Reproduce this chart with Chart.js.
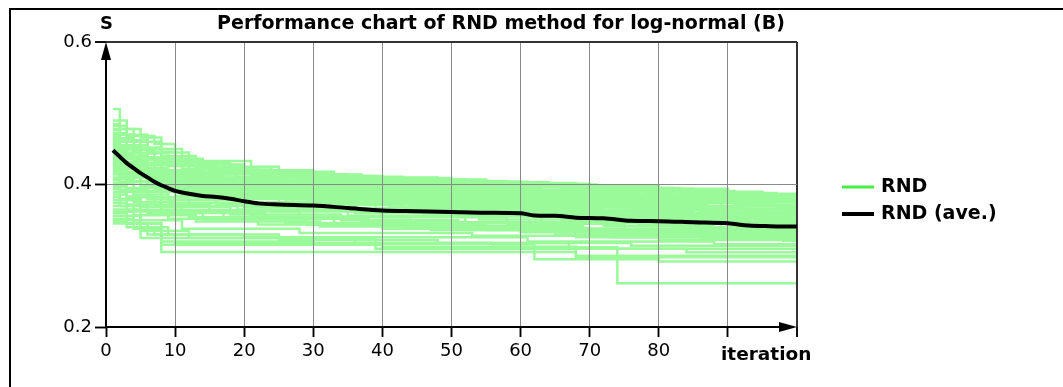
<!DOCTYPE html>
<html>
<head>
<meta charset="utf-8">
<title>Performance chart of RND method for log-normal (B)</title>
<script src="https://cdn.jsdelivr.net/npm/chart.js@4.4.1/dist/chart.umd.min.js"></script>
<style>
  html, body { margin: 0; padding: 0; background: #fff; }
  #wrap { position: relative; width: 1063px; height: 387px; }
</style>
</head>
<body>
<div id="wrap"><canvas id="perfChart"></canvas></div>
<script>
const chartTitle = 'Performance chart of RND method for log-normal (B)';
const yAxisTitle = 'S';
const xAxisTitle = 'iteration';
const legendLabels = ['RND', 'RND (ave.)'];

const xTicks = [0, 10, 20, 30, 40, 50, 60, 70, 80, 90, 100];
const xTickLabels = ['0', '10', '20', '30', '40', '50', '60', '70', '80', '', ''];
const yTicks = [0.2, 0.4, 0.6];
const lastIteration = 100;

// average over the runs
const aveIter = [1, 2, 3, 4, 5, 6, 7, 8, 9, 10, 12, 14, 16, 18, 20, 22, 25, 30, 35, 40,
  45, 50, 55, 60, 62, 65, 68, 72, 76, 80, 85, 90, 93, 96, 100];
const aveValue = [0.448, 0.439, 0.430, 0.423, 0.416, 0.410, 0.404, 0.399, 0.395, 0.391,
  0.387, 0.384, 0.3825, 0.380, 0.3765, 0.3735, 0.372, 0.3705, 0.367, 0.3635,
  0.3625, 0.3615, 0.3605, 0.3597, 0.3565, 0.356, 0.3535, 0.3525, 0.349, 0.3485,
  0.347, 0.3455, 0.3425, 0.3415, 0.341];

// single runs: [iteration, best S so far] at each improvement
const rndRuns = [
  [[1, 0.506], [2, 0.478], [5, 0.466], [8, 0.436], [14, 0.421], [22, 0.414], [34, 0.408], [44, 0.404], [60, 0.400], [66, 0.395], [82, 0.3905], [87, 0.387]],
  [[1, 0.490], [3, 0.468], [7, 0.457], [10, 0.433], [21, 0.414], [35, 0.407], [55, 0.401], [70, 0.394], [90, 0.386]],
  [[1, 0.485], [2, 0.470], [6, 0.450], [11, 0.430], [18, 0.420], [30, 0.410], [48, 0.403], [64, 0.398], [80, 0.390], [95, 0.384]],
  [[1, 0.482], [3, 0.462], [6, 0.446], [10, 0.430], [17, 0.419], [29, 0.411], [43, 0.404], [61, 0.398], [74, 0.391], [91, 0.385]],
  [[1, 0.478], [4, 0.460], [8, 0.440], [13, 0.425], [25, 0.412], [40, 0.405], [58, 0.399], [75, 0.392], [88, 0.385]],
  [[1, 0.476], [2, 0.460], [5, 0.444], [9, 0.430], [15, 0.420], [26, 0.412], [39, 0.406], [54, 0.400], [71, 0.393], [86, 0.386]],
  [[1, 0.472], [3, 0.455], [6, 0.445], [12, 0.428], [20, 0.418], [33, 0.409], [50, 0.402], [68, 0.394], [85, 0.387], [96, 0.382]],
  [[1, 0.470], [4, 0.452], [8, 0.436], [13, 0.424], [24, 0.414], [37, 0.407], [52, 0.401], [67, 0.395], [83, 0.388], [97, 0.383]],
  [[1, 0.468], [2, 0.452], [5, 0.438], [9, 0.426], [16, 0.416], [28, 0.408], [45, 0.399], [62, 0.392], [78, 0.386], [92, 0.379]],
  [[1, 0.466], [2, 0.449], [6, 0.435], [11, 0.422], [21, 0.412], [34, 0.404], [51, 0.397], [66, 0.390], [80, 0.384]],
  [[1, 0.465], [4, 0.448], [7, 0.432], [15, 0.420], [27, 0.410], [42, 0.401], [60, 0.393], [76, 0.385], [90, 0.377]],
  [[1, 0.463], [3, 0.444], [7, 0.428], [12, 0.416], [26, 0.406], [41, 0.399], [57, 0.392], [73, 0.386], [89, 0.380]],
  [[1, 0.462], [2, 0.445], [5, 0.430], [10, 0.418], [19, 0.410], [31, 0.402], [47, 0.395], [63, 0.389], [82, 0.381]],
  [[1, 0.460], [3, 0.440], [6, 0.428], [11, 0.414], [23, 0.405], [38, 0.398], [56, 0.390], [72, 0.383], [94, 0.375]],
  [[1, 0.458], [2, 0.442], [4, 0.430], [8, 0.418], [14, 0.408], [26, 0.400], [41, 0.393], [59, 0.387], [77, 0.380], [91, 0.372]],
  [[1, 0.457], [2, 0.440], [5, 0.427], [10, 0.414], [19, 0.404], [33, 0.397], [49, 0.390], [66, 0.383], [84, 0.377]],
  [[1, 0.455], [3, 0.438], [7, 0.420], [12, 0.410], [22, 0.401], [36, 0.394], [53, 0.386], [69, 0.379], [86, 0.370]],
  [[1, 0.454], [4, 0.434], [8, 0.419], [14, 0.410], [27, 0.400], [43, 0.392], [60, 0.385], [77, 0.378], [93, 0.371]],
  [[1, 0.452], [2, 0.436], [5, 0.423], [9, 0.412], [17, 0.403], [30, 0.395], [46, 0.388], [64, 0.381], [81, 0.374], [97, 0.367]],
  [[1, 0.450], [4, 0.430], [8, 0.415], [13, 0.405], [24, 0.397], [39, 0.390], [57, 0.382], [74, 0.375], [89, 0.366]],
  [[1, 0.449], [3, 0.430], [6, 0.417], [12, 0.403], [22, 0.394], [36, 0.387], [54, 0.380], [70, 0.373], [87, 0.365]],
  [[1, 0.448], [2, 0.432], [6, 0.418], [10, 0.406], [20, 0.398], [32, 0.391], [49, 0.384], [66, 0.377], [84, 0.369], [98, 0.364]],
  [[1, 0.446], [3, 0.428], [7, 0.410], [15, 0.400], [28, 0.392], [44, 0.385], [61, 0.378], [79, 0.370], [93, 0.362]],
  [[1, 0.445], [2, 0.428], [7, 0.410], [13, 0.398], [26, 0.390], [42, 0.382], [59, 0.374], [76, 0.366], [91, 0.358]],
  [[1, 0.444], [2, 0.430], [4, 0.418], [9, 0.404], [18, 0.395], [29, 0.389], [43, 0.382], [60, 0.374], [76, 0.366], [92, 0.359]],
  [[1, 0.442], [3, 0.425], [6, 0.411], [12, 0.399], [25, 0.391], [40, 0.383], [58, 0.375], [73, 0.368], [88, 0.357]],
  [[1, 0.440], [2, 0.426], [5, 0.412], [11, 0.400], [21, 0.392], [35, 0.384], [52, 0.376], [70, 0.370], [86, 0.362], [96, 0.355]],
  [[1, 0.438], [4, 0.420], [8, 0.405], [16, 0.394], [30, 0.387], [47, 0.379], [65, 0.371], [83, 0.360]],
  [[1, 0.437], [4, 0.418], [9, 0.402], [18, 0.392], [32, 0.384], [47, 0.376], [63, 0.368], [79, 0.359], [95, 0.351]],
  [[1, 0.436], [2, 0.422], [6, 0.406], [13, 0.396], [23, 0.388], [38, 0.380], [55, 0.372], [71, 0.364], [90, 0.352]],
  [[1, 0.434], [3, 0.418], [7, 0.403], [14, 0.392], [27, 0.384], [42, 0.377], [59, 0.369], [78, 0.360], [94, 0.350]],
  [[1, 0.432], [2, 0.417], [5, 0.404], [10, 0.394], [19, 0.386], [33, 0.378], [50, 0.370], [67, 0.362], [85, 0.354], [99, 0.348]],
  [[1, 0.430], [4, 0.414], [9, 0.398], [17, 0.389], [31, 0.381], [45, 0.373], [62, 0.365], [80, 0.356], [95, 0.346]],
  [[1, 0.429], [3, 0.411], [8, 0.397], [16, 0.386], [30, 0.378], [46, 0.370], [64, 0.361], [81, 0.352], [94, 0.343]],
  [[1, 0.428], [2, 0.414], [6, 0.400], [12, 0.390], [24, 0.382], [37, 0.375], [54, 0.367], [72, 0.358], [87, 0.348]],
  [[1, 0.426], [3, 0.410], [8, 0.396], [15, 0.387], [29, 0.379], [44, 0.371], [61, 0.362], [75, 0.353], [91, 0.344]],
  [[1, 0.424], [2, 0.410], [5, 0.398], [11, 0.388], [22, 0.380], [36, 0.372], [51, 0.364], [68, 0.355], [83, 0.346], [97, 0.341]],
  [[1, 0.422], [4, 0.404], [9, 0.392], [18, 0.383], [32, 0.375], [48, 0.367], [64, 0.358], [80, 0.349], [93, 0.338]],
  [[1, 0.420], [3, 0.405], [7, 0.392], [14, 0.383], [26, 0.376], [41, 0.368], [57, 0.360], [74, 0.350], [89, 0.340]],
  [[1, 0.418], [2, 0.403], [6, 0.391], [13, 0.381], [27, 0.372], [43, 0.364], [60, 0.355], [77, 0.345], [93, 0.334]],
  [[1, 0.417], [2, 0.404], [6, 0.390], [13, 0.380], [25, 0.372], [39, 0.364], [56, 0.355], [71, 0.346], [86, 0.336]],
  [[1, 0.414], [5, 0.396], [10, 0.384], [20, 0.375], [34, 0.367], [50, 0.358], [66, 0.349], [82, 0.340], [96, 0.332]],
  [[1, 0.410], [3, 0.395], [8, 0.382], [16, 0.373], [30, 0.364], [46, 0.356], [63, 0.347], [79, 0.337], [92, 0.328]],
  [[1, 0.408], [4, 0.390], [9, 0.378], [20, 0.368], [36, 0.360], [54, 0.351], [72, 0.342], [88, 0.330]],
  [[1, 0.406], [2, 0.392], [6, 0.379], [12, 0.370], [24, 0.362], [40, 0.354], [58, 0.345], [75, 0.335], [90, 0.325]],
  [[1, 0.402], [4, 0.386], [9, 0.374], [19, 0.365], [35, 0.356], [52, 0.347], [69, 0.338], [85, 0.328], [98, 0.321]],
  [[1, 0.398], [3, 0.383], [7, 0.371], [15, 0.362], [28, 0.354], [44, 0.346], [62, 0.337], [78, 0.327]],
  [[1, 0.396], [3, 0.382], [8, 0.368], [18, 0.358], [34, 0.350], [51, 0.342], [69, 0.334], [86, 0.324]],
  [[1, 0.394], [2, 0.380], [5, 0.368], [11, 0.360], [23, 0.352], [38, 0.344], [55, 0.336], [73, 0.326]],
  [[1, 0.390], [4, 0.375], [10, 0.364], [21, 0.355], [37, 0.347], [53, 0.339], [70, 0.331]],
  [[1, 0.386], [3, 0.372], [8, 0.362], [17, 0.353], [33, 0.345], [49, 0.338], [65, 0.330]],
  [[1, 0.382], [2, 0.370], [6, 0.360], [14, 0.351], [29, 0.343], [47, 0.336]],
  [[1, 0.378], [5, 0.364], [12, 0.354], [26, 0.346], [43, 0.339], [60, 0.333]],
  [[1, 0.374], [3, 0.362], [9, 0.352], [22, 0.344], [40, 0.338]],
  [[1, 0.370], [4, 0.357], [13, 0.348], [31, 0.341], [52, 0.336], [68, 0.326]],
  [[1, 0.365], [5, 0.340], [9, 0.330], [25, 0.322], [48, 0.318], [67, 0.310]],
  [[1, 0.362], [4, 0.350], [11, 0.338], [28, 0.332], [53, 0.328], [80, 0.322]],
  [[1, 0.360], [3, 0.345], [8, 0.320], [30, 0.316], [62, 0.310], [84, 0.305]],
  [[1, 0.356], [5, 0.325], [39, 0.310], [62, 0.295], [80, 0.292]],
  [[1, 0.352], [4, 0.338], [8, 0.3155], [40, 0.312], [74, 0.2614]],
  [[1, 0.350], [5, 0.335], [12, 0.325], [36, 0.318], [76, 0.314]],
  [[1, 0.348], [3, 0.340], [7, 0.330], [20, 0.326], [61, 0.320], [88, 0.316]],
  [[1, 0.3455], [8, 0.3054], [68, 0.298]],
  [[1, 0.3455], [6, 0.330], [10, 0.318], [56, 0.3125], [68, 0.300]]
];

const runColor = '#9afa9a';
const runLegendColor = '#44ee44';
const aveColor = '#000000';
const fontFamily = '"DejaVu Sans", Verdana, sans-serif';

// average first so that it is drawn on top of the runs
var datasets = [{
    label: legendLabels[1],
    data: aveIter.map((x, i) => ({ x: x, y: aveValue[i] })),
    borderColor: aveColor,
    borderWidth: 4,
    pointRadius: 0,
    tension: 0.3,
    cubicInterpolationMode: 'monotone',
    fill: false
}];

rndRuns.forEach(function (run) {
    var pts = run.map(p => ({ x: p[0], y: p[1] }));
    pts.push({ x: lastIteration, y: run[run.length - 1][1] });
    datasets.push({
        label: legendLabels[0],
        data: pts,
        borderColor: runColor,
        borderWidth: 2.5,
        pointRadius: 0,
        stepped: true,
        fill: false
    });
});

function near(a, b) { return Math.abs(a - b) < 1e-6; }

// axes with arrows, frame, titles and legend
var decorPlugin = {
    id: 'decor',
    beforeDatasetDraw(chart, args) {
        // grid lines sit over the runs but under the average
        if (args.index === 0) {
            chart.scales.x.drawGrid(chart.chartArea);
            chart.scales.y.drawGrid(chart.chartArea);
        }
    },
    afterDraw(chart) {
        var ctx = chart.ctx;
        var a = chart.chartArea;
        ctx.save();

        // outer frame (top and left)
        ctx.strokeStyle = '#000';
        ctx.lineWidth = 2;
        ctx.beginPath();
        ctx.moveTo(10, chart.height);
        ctx.lineTo(10, 9);
        ctx.lineTo(chart.width, 9);
        ctx.stroke();

        // axes
        ctx.lineWidth = 2;
        ctx.beginPath();
        ctx.moveTo(a.left, a.bottom + 1);
        ctx.lineTo(a.left, a.top + 12);
        ctx.moveTo(a.left - 1, a.bottom);
        ctx.lineTo(a.right - 12, a.bottom);
        ctx.stroke();

        ctx.fillStyle = '#000';
        ctx.beginPath();
        ctx.moveTo(a.left, a.top);
        ctx.lineTo(a.left - 5, a.top + 18);
        ctx.lineTo(a.left + 5, a.top + 18);
        ctx.closePath();
        ctx.fill();
        ctx.beginPath();
        ctx.moveTo(a.right, a.bottom);
        ctx.lineTo(a.right - 18, a.bottom - 5);
        ctx.lineTo(a.right - 18, a.bottom + 5);
        ctx.closePath();
        ctx.fill();

        // texts
        ctx.textBaseline = 'alphabetic';
        ctx.font = 'bold 19px ' + fontFamily;
        ctx.textAlign = 'center';
        ctx.fillText(chartTitle, 501, 29);
        ctx.font = 'bold 18px ' + fontFamily;
        ctx.textAlign = 'left';
        ctx.fillText(yAxisTitle, a.left - 6, 29);
        ctx.font = 'bold 18.5px ' + fontFamily;
        ctx.fillText(xAxisTitle, 721, 360);

        // legend
        ctx.lineWidth = 3;
        ctx.strokeStyle = runLegendColor;
        ctx.beginPath();
        ctx.moveTo(842, 187);
        ctx.lineTo(874, 187);
        ctx.stroke();
        ctx.lineWidth = 4;
        ctx.strokeStyle = aveColor;
        ctx.beginPath();
        ctx.moveTo(842, 214);
        ctx.lineTo(874, 214);
        ctx.stroke();
        ctx.font = 'bold 19px ' + fontFamily;
        ctx.textBaseline = 'middle';
        ctx.fillText(legendLabels[0], 881, 187);
        ctx.fillText(legendLabels[1], 881, 214);

        ctx.restore();
    }
};

var ctx = document.getElementById('perfChart').getContext('2d');
var perfChart = new Chart(ctx, {
    type: 'line',
    data: { datasets: datasets },
    plugins: [decorPlugin],
    options: {
        responsive: true,
        maintainAspectRatio: false,
        animation: false,
        layout: { padding: { top: 42, right: 266, bottom: 0, left: 0 } },
        plugins: {
            legend: { display: false },
            title: { display: false },
            tooltip: { enabled: false }
        },
        scales: {
            x: {
                type: 'linear',
                min: xTicks[0],
                max: xTicks[xTicks.length - 1],
                afterFit: function (scale) { scale.height = 60; },
                border: { display: false },
                grid: {
                    color: c => near(c.tick.value, 0) ? 'rgba(0,0,0,0)' : (near(c.tick.value, 100) ? '#333' : '#8a8a8a'),
                    lineWidth: c => near(c.tick.value, 100) ? 2 : 1,
                    tickLength: 10,
                    tickColor: '#000',
                    tickWidth: 1.5
                },
                ticks: {
                    stepSize: 10,
                    autoSkip: false,
                    maxRotation: 0,
                    padding: 4,
                    color: '#000',
                    font: { family: fontFamily, size: 18 },
                    callback: v => xTickLabels[xTicks.indexOf(v)]
                }
            },
            y: {
                min: yTicks[0],
                max: yTicks[yTicks.length - 1],
                afterFit: function (scale) { scale.width = 106; },
                border: { display: false },
                grid: {
                    color: c => near(c.tick.value, 0.2) ? 'rgba(0,0,0,0)' : (near(c.tick.value, 0.6) ? '#333' : '#8a8a8a'),
                    lineWidth: c => near(c.tick.value, 0.6) ? 2 : 1,
                    tickLength: 11,
                    tickColor: '#000',
                    tickWidth: 1.5
                },
                ticks: {
                    stepSize: 0.2,
                    padding: 3,
                    color: '#000',
                    font: { family: fontFamily, size: 18 },
                    callback: v => v.toFixed(1)
                }
            }
        }
    }
});
</script>
</body>
</html>
